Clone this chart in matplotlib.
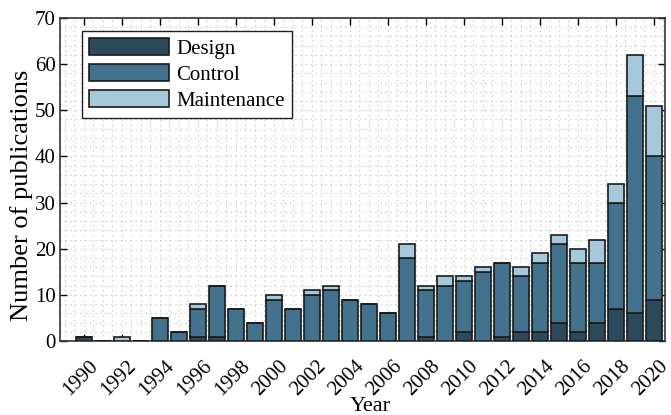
import numpy as np
import matplotlib
matplotlib.use('Agg')
import matplotlib.pyplot as plt
import matplotlib.transforms as mtrans
from matplotlib.ticker import MultipleLocator

years = list(range(1990, 2021))
design = [1, 0, 0, 0, 0, 0, 1, 1, 0, 0, 0, 0, 0, 0, 0, 0,
          0, 0, 1, 0, 2, 0, 1, 2, 2, 4, 2, 4, 7, 6, 9]
control = [0, 0, 0, 0, 5, 2, 6, 11, 7, 4, 9, 7, 10, 11, 9, 8,
           6, 18, 10, 12, 11, 15, 16, 12, 15, 17, 15, 13, 23, 47, 31]
maintenance = [0, 0, 1, 0, 0, 0, 1, 0, 0, 0, 1, 0, 1, 1, 0, 0,
               0, 3, 1, 2, 1, 1, 0, 2, 2, 2, 3, 5, 4, 9, 11]

plt.rcParams['font.family'] = ['Liberation Serif', 'DejaVu Serif']
plt.rcParams['font.size'] = 14

fig = plt.figure(figsize=(6.71, 4.15), dpi=100)
ax = fig.add_axes([0.0894, 0.178, 0.902, 0.779])

x = np.array(years)
d = np.array(design)
c = np.array(control)
m = np.array(maintenance)
w = 0.82
kw = dict(width=w, edgecolor='#1a1a1a', linewidth=1.2, zorder=3)
ax.bar(x, d, color='#2c4a5c', label='Design', **kw)
ax.bar(x, c, bottom=d, color='#43728f', label='Control', **kw)
ax.bar(x, m, bottom=d + c, color='#a5c8db', label='Maintenance', **kw)

ax.set_xlim(1988.75, 2020.6)
ax.set_ylim(0, 70)
ax.set_xticks(range(1990, 2021, 2))
ax.set_xticklabels([str(y) for y in range(1990, 2021, 2)], rotation=45, fontsize=15,
                   ha='right', va='top', rotation_mode='anchor')
ax.set_yticks(range(0, 71, 10))
ax.xaxis.set_minor_locator(MultipleLocator(0.5))
ax.yaxis.set_minor_locator(MultipleLocator(2))
ax.tick_params(which='major', direction='in', top=True, right=True, length=5, width=1, pad=3)
ax.tick_params(axis='x', pad=8.5)
ax.tick_params(axis='y', labelsize=15)
ax.tick_params(which='minor', length=0)
ax.grid(which='both', color='#b8b8b8', linestyle=(0, (1, 3.5)), linewidth=0.8, zorder=0)
ax.set_axisbelow(True)
for s in ax.spines.values():
    s.set_linewidth(1.2)
    s.set_color('#333333')

# nudge rotated year labels a little right and down
shift = mtrans.ScaledTranslation(0.05, -0.04, fig.dpi_scale_trans)
for lab in ax.get_xticklabels():
    lab.set_transform(lab.get_transform() + shift)

ax.set_xlabel('Year', fontsize=16)
ax.xaxis.set_label_coords(0.512, -0.173)
ax.set_ylabel('Number of publications', fontsize=19)
ax.yaxis.set_label_coords(-0.045, 0.45)

leg = ax.legend(loc='upper left', bbox_to_anchor=(0.036, 0.96), fancybox=False,
                edgecolor='#222222', framealpha=1, fontsize=15,
                handlelength=3.85, handleheight=0.9,
                labelspacing=0.25, borderpad=0.35, handletextpad=0.35, borderaxespad=0)
leg.get_frame().set_linewidth(1.0)

fig.savefig('out.png', dpi=100)
